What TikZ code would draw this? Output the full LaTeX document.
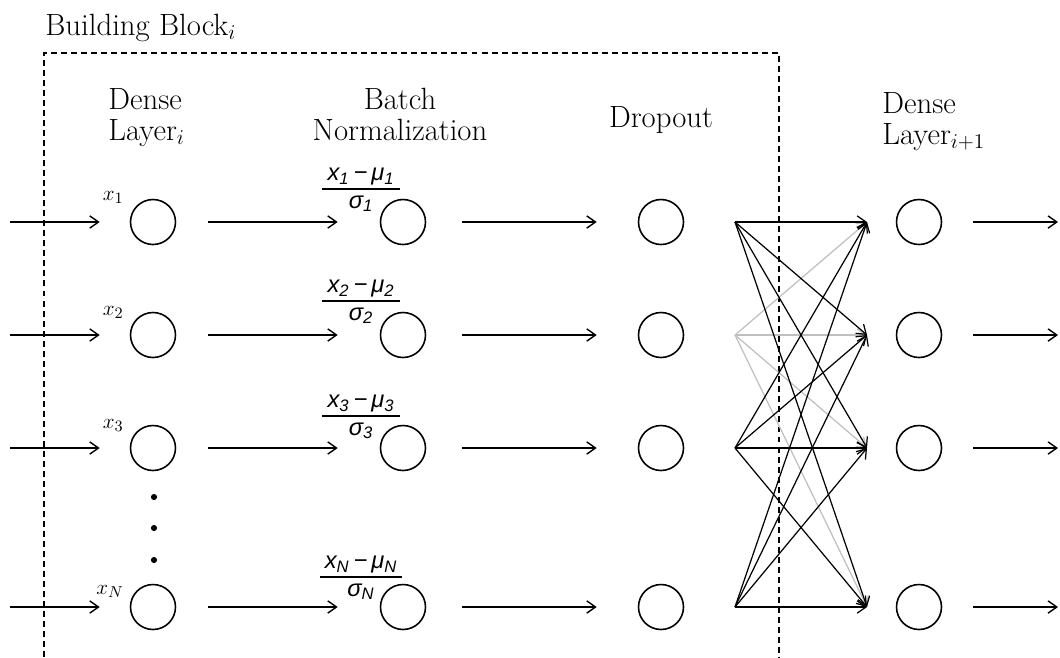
\documentclass[tikz,border=0pt]{standalone}
\usepackage{fontspec}
\newfontfamily\bnfont{Liberation Sans}
\usetikzlibrary{arrows.meta, positioning, calc}

\setlength{\arrayrulewidth}{0.8pt}
\newcommand{\bnfrac}[1]{{\bnfont\itshape\fontsize{13.5}{15}\selectfont
    \begin{tabular}{@{\hspace{3pt}}c@{\hspace{3pt}}}x\textsubscript{#1}\,−\,μ\textsubscript{#1}\\\hline σ\textsubscript{#1}\end{tabular}}}

\begin{document}
\begin{tikzpicture}[x=0.02cm, y=-0.02cm,
        unit/.style={circle, draw, line width=0.9pt, minimum size=0.9cm, inner sep=0pt},
        head/.style={font=\fontsize{17.5}{17.5}\selectfont, inner sep=0pt},
        xlab/.style={font=\fontsize{13}{15}\selectfont, inner sep=0pt, anchor=base east},
        frac/.style={inner sep=0pt},
        arr/.style={-{Straight Barb[length=5pt,width=7pt]}, line width=0.8pt},
        fc/.style={-{Straight Barb[length=5pt,width=7pt]}, line width=0.7pt},
        vdot/.style={circle, fill, inner sep=0pt, minimum size=3.5pt}
    ]
    \useasboundingbox (0,0) rectangle (1060,657);

    % Building block, open at the bottom
    \draw[dash pattern=on 3.4pt off 2.3pt, line width=0.6pt] (44,657) |- (779,53) -- (779,657);
    \node[head, anchor=base west] (block) at (45,35) {Building Block$_i$};

    % Headers
    \node[head, align=left, anchor=north west] (dense) at (108,88) {Dense\\Layer$_i$};
    \node[head, align=center, anchor=north] (batchnorm) at (400,88) {Batch\\Normalization};
    \node[head, anchor=base] (dropout) at (661,127) {Dropout};
    \node[head, align=left, anchor=north west] (nextdense) at (882,92) {Dense\\Layer$_{i+1}$};

    % Rows of units
    \foreach \i/\y/\k/\xb/\fy in {1/222/1/200/189, 2/335/2/315/301, 3/448/3/428/416, 4/607/N/594/577}{
        \coordinate (in\i) at (10,\y);
        \node[unit] (d\i) at (153,\y) {};
        \node[unit] (b\i) at (403,\y) {};
        \node[unit] (o\i) at (661,\y) {};
        \node[unit] (n\i) at (919,\y) {};
        \coordinate (out\i) at (1058,\y);
        \coordinate (s\i) at (735,\y);
        \coordinate (t\i) at (867,\y);
        \node[xlab] (x\i) at (124,\xb) {$x_\k$};
        \node[frac] (f\i) at (361,\fy) {\bnfrac{\k}};
        \draw[arr, shorten >=0.6cm] (in\i) -- (d\i);
        \draw[arr, shorten <=0.64cm, shorten >=0.84cm] (d\i) -- (b\i);
        \draw[arr, shorten <=0.72cm, shorten >=0.82cm] (b\i) -- (o\i);
        \draw[arr, shorten <=0.62cm] (n\i) -- (out\i);
    }

    % Dots between row 3 and row N
    \node[vdot] (v1) at (154,497) {};
    \node[vdot] (v2) at (154,528) {};
    \node[vdot] (v3) at (154,560) {};

    % Fully connected, the dropped unit in light grey
    \foreach \t in {1,...,4} \draw[fc, black!25] (s2) -- (t\t);
    \foreach \s in {1,3,4} \foreach \t in {1,...,4} \draw[fc] (s\s) -- (t\t);

\end{tikzpicture}
\end{document}
